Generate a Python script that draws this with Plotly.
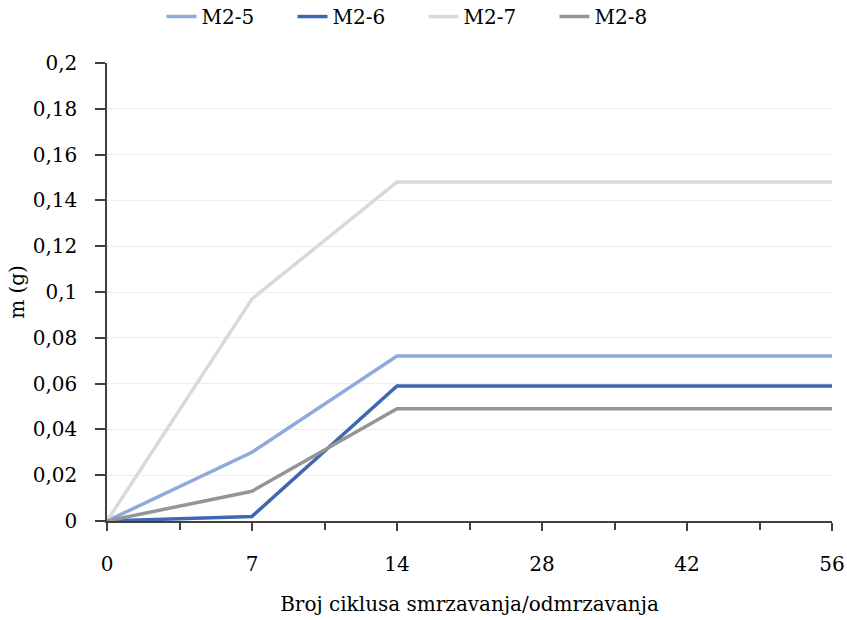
import plotly.graph_objects as go

categories = ["0", "7", "14", "28", "42", "56"]
m2_5 = [0, 0.030, 0.072, 0.072, 0.072, 0.072]
m2_6 = [0, 0.002, 0.059, 0.059, 0.059, 0.059]
m2_7 = [0, 0.097, 0.148, 0.148, 0.148, 0.148]
m2_8 = [0, 0.013, 0.049, 0.049, 0.049, 0.049]
y_tick_vals = [0, 0.02, 0.04, 0.06, 0.08, 0.1, 0.12, 0.14, 0.16, 0.18, 0.2]
y_tick_text = ["0", "0,02", "0,04", "0,06", "0,08", "0,1", "0,12", "0,14", "0,16", "0,18", "0,2"]

series = [
    ("M2-5", m2_5, "#8FAADC"),
    ("M2-6", m2_6, "#3F66B0"),
    ("M2-7", m2_7, "#D9D9D9"),
    ("M2-8", m2_8, "#959595"),
]

xpos = list(range(len(categories)))
FONT = "DejaVu Serif"
FS = 20

fig = go.Figure()
for name, vals, col in series:
    fig.add_trace(go.Scatter(x=xpos, y=vals, mode="lines", name=name,
                             line=dict(color=col, width=3.5)))

fig.update_layout(
    width=847, height=620,
    paper_bgcolor="white", plot_bgcolor="white",
    margin=dict(l=107, r=15, t=63, b=99, autoexpand=False),
    font=dict(family=FONT, size=FS, color="#000000"),
    legend=dict(orientation="h", x=0.5, xanchor="center", y=1.144, yanchor="top",
                yref="paper", xref="container",
                font=dict(family=FONT, size=FS),
                entrywidth=86, entrywidthmode="pixels",
                tracegroupgap=0),
    showlegend=True,
)

fig.update_xaxes(
    range=[0, 5], tickvals=xpos, ticktext=categories, automargin=False,
    showline=True, linecolor="#404040", linewidth=1.5,
    ticks="outside", ticklen=8, tickcolor="#404040", tickwidth=1.5,
    minor=dict(tick0=0.5, dtick=1, ticks="outside", ticklen=7, tickcolor="#404040", tickwidth=1.5),
    showgrid=False, zeroline=False, ticklabelstandoff=16, ticklabeloverflow="allow",
    title=dict(text="Broj ciklusa smrzavanja/odmrzavanja", font=dict(family=FONT, size=FS), standoff=22),
    tickfont=dict(family=FONT, size=FS),
)
fig.update_yaxes(
    range=[0, 0.2], tickvals=y_tick_vals, ticktext=y_tick_text, automargin=False,
    showline=True, linecolor="#404040", linewidth=1.5,
    ticks="outside", ticklen=10, tickcolor="#404040", tickwidth=1.5,
    showgrid=True, gridcolor="#EDEDED", gridwidth=1.2,
    zeroline=False, ticklabelstandoff=14,
    title=dict(text="m (g)", font=dict(family=FONT, size=FS), standoff=3),
    tickfont=dict(family=FONT, size=FS),
)

fig.write_html("out.html", config={"displayModeBar": False},
               post_script="document.body.style.margin='0';")
